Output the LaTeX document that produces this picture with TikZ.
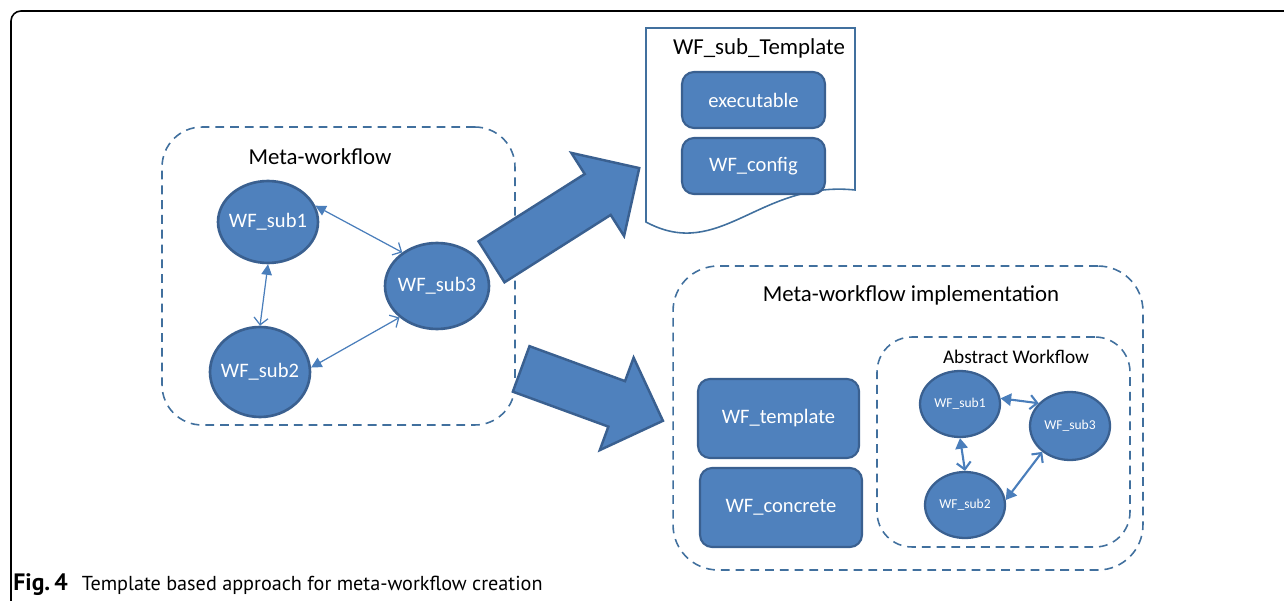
\documentclass[tikz,border=0pt]{standalone}
\usepackage{fontspec}
\setmainfont{Carlito}
\newfontfamily\capfont{PT Sans}
\usepackage{tikz}
\usetikzlibrary{shapes.geometric, shapes.arrows, arrows.meta}
\definecolor{blockfill}{HTML}{4F81BD}
\definecolor{blockedge}{HTML}{3A6090}
\definecolor{linkblue}{HTML}{4A7EBB}
\definecolor{dashblue}{HTML}{41709E}

\begin{document}
\begin{tikzpicture}[x=0.02cm, y=-0.02cm,
    bubble/.style={ellipse, draw=blockedge, fill=blockfill, line width=1.5pt,
      text=white, inner sep=0pt, font=\fontsize{11.7}{13}\selectfont},
    minibubble/.style={bubble, line width=1.3pt, minimum width=1.6cm, minimum height=1.32cm,
      font=\fontsize{7.7}{9}\selectfont},
    block/.style={rectangle, rounded corners=0.24cm, draw=blockedge, fill=blockfill,
      line width=1.2pt, text=white, font=\fontsize{11.7}{13}\selectfont},
    group/.style={rectangle, draw=dashblue, line width=0.9pt, dash pattern=on 5pt off 3.4pt},
    title/.style={font=\fontsize{13}{15}\selectfont, inner sep=0pt},
    link/.style={linkblue, line width=0.7pt, {Triangle[length=6pt,width=6pt]}-{Straight Barb[length=4pt,width=8pt]}},
    minilink/.style={linkblue, line width=1.2pt, {Triangle[length=6pt,width=7pt]}-{Straight Barb[length=4pt,width=8pt]}},
    bigarrow/.style={single arrow, draw=blockedge, fill=blockfill, line width=1.4pt,
      inner xsep=0pt, inner ysep=0.46cm, single arrow head extend=0.5cm, anchor=tail}]

  \useasboundingbox (0,0) rectangle (1284,601);

  % Figure frame
  \draw[line width=0.9pt, rounded corners=0.2cm] (1300,11) -- (11,11) -- (11,615);

  % Meta-workflow
  \node[group, rounded corners=0.8cm, minimum width=7.06cm, minimum height=5.96cm] (meta) at (338.5,276) {};
  \node[title] (metatitle) at (320,157) {Meta-workflow};

  \node[bubble, minimum width=2cm, minimum height=1.64cm] (sub1) at (268,222) {\makebox[0pt]{WF\_sub1}};
  \node[bubble, minimum width=2.08cm, minimum height=1.72cm] (sub3) at (437,286) {\makebox[0pt]{WF\_sub3}};
  \node[bubble, minimum width=2cm, minimum height=1.8cm] (sub2) at (260,372) {\makebox[0pt]{WF\_sub2}};

  \draw[link] (sub1.19) -- (sub3.136);
  \draw[link] (sub1.south) -- (sub2.north);
  \draw[link] (sub2.5) -- (sub3.220);

  % Big arrows
  \node[bigarrow, minimum height=3.5cm, rotate=32.4] (totemplate) at (490.5,262.5) {};
  \node[bigarrow, minimum height=3.02cm, rotate=-20.1] (toimpl) at (520,368.5) {};

  % WF_sub_Template document
  \draw[dashblue, line width=0.9pt] (646,28) -- (855,28) -- (855,190)
    .. controls (760,180) and (720,262) .. (646,222) -- cycle;
  \node[title] (templatetitle) at (759,48) {WF\_sub\_Template};
  \node[block, minimum width=2.86cm, minimum height=1.12cm] (exec) at (753.5,100) {executable};
  \node[block, minimum width=2.86cm, minimum height=1.12cm] (config) at (753.5,166) {WF\_config};

  % Meta-workflow implementation
  \node[group, rounded corners=0.9cm, minimum width=9.4cm, minimum height=6.08cm] (impl) at (908,418) {};
  \node[title] (impltitle) at (911,295) {Meta-workflow implementation};

  \node[block, minimum width=3.22cm, minimum height=1.58cm] (wftemplate) at (778.5,418.5) {WF\_template};
  \node[block, minimum width=3.24cm, minimum height=1.58cm] (wfconcrete) at (781,507.5) {WF\_concrete};

  % Abstract workflow
  \node[group, rounded corners=0.7cm, minimum width=5.06cm, minimum height=4.2cm] (abstract) at (1003.5,442) {};
  \node[title, font=\fontsize{11}{13}\selectfont] (abstracttitle) at (1016,357) {Abstract Workflow};

  \node[minibubble] (asub1) at (960,404) {\makebox[0pt]{WF\_sub1}};
  \node[minibubble, minimum height=1.36cm] (asub3) at (1070,426) {\makebox[0pt]{WF\_sub3}};
  \node[minibubble] (asub2) at (965,505) {\makebox[0pt]{WF\_sub2}};

  \draw[minilink] (asub1.8) -- (asub3.144);
  \draw[minilink] (asub1.south) -- (asub2.north);
  \draw[minilink] (asub2.7) -- (asub3.223);

  % Caption
  \node[anchor=base west, inner sep=0pt, font=\capfont\fontsize{11.5}{13}\selectfont] (caption) at (13,590)
    {\textbf{\fontsize{13.5}{13}\selectfont Fig.\,4}\hspace{0.7em}Template based approach for meta-workflow creation};
\end{tikzpicture}
\end{document}
